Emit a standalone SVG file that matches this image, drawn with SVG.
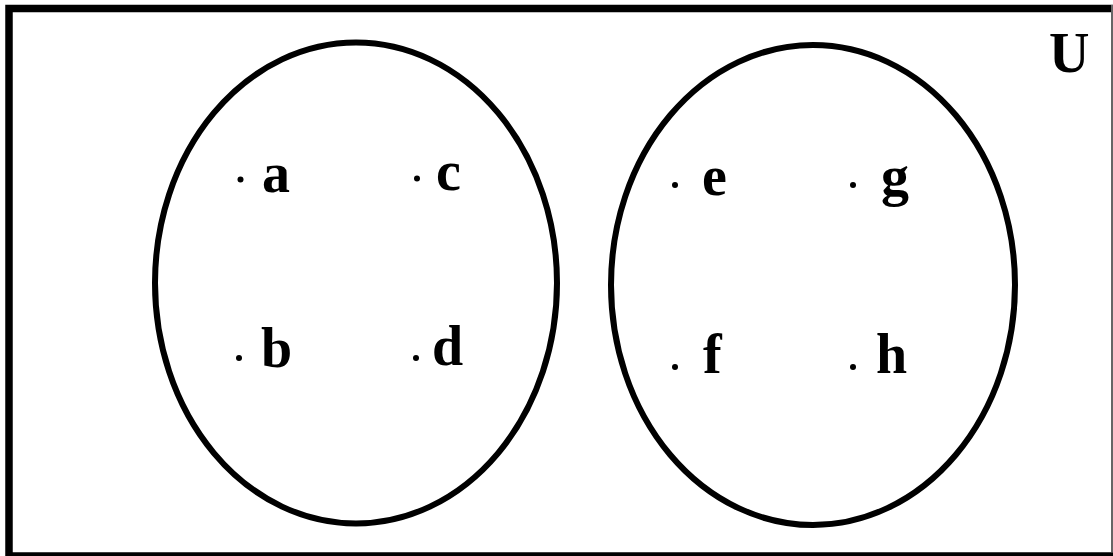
<svg xmlns="http://www.w3.org/2000/svg" width="1113" height="556" viewBox="0 0 1113 556">
<style>
.set{fill:none;stroke:#000;stroke-width:6}
.lbl{font-family:"Liberation Serif","Times New Roman",serif;font-weight:bold;font-size:56px;fill:#000}
.dot{fill:#000}
</style>
<rect x="0" y="0" width="1113" height="556" fill="#fff"/>
<g id="universe">
<rect x="9" y="8.5" width="1108" height="547.5" fill="none" stroke="#000" stroke-width="7.5"/>
<line x1="1112" y1="5" x2="1112" y2="552" stroke="#666" stroke-width="2"/>
<text class="lbl" x="1049" y="72">U</text>
</g>
<g id="setA">
<ellipse class="set" cx="356" cy="283" rx="201" ry="240.5"/>
</g>
<g id="setB">
<ellipse class="set" cx="813" cy="285" rx="202" ry="240"/>
</g>
<g id="el-a"><circle class="dot" cx="240.5" cy="179.5" r="3"/><text class="lbl" x="262" y="192">a</text></g>
<g id="el-c"><circle class="dot" cx="417" cy="178.5" r="3"/><text class="lbl" x="436" y="190">c</text></g>
<g id="el-b"><circle class="dot" cx="239" cy="358" r="3"/><text class="lbl" x="261" y="367">b</text></g>
<g id="el-d"><circle class="dot" cx="416" cy="358" r="3"/><text class="lbl" x="432" y="365">d</text></g>
<g id="el-e"><circle class="dot" cx="675" cy="185" r="3"/><text class="lbl" x="702" y="195">e</text></g>
<g id="el-g"><circle class="dot" cx="853" cy="185" r="3"/><text class="lbl" x="881" y="195">g</text></g>
<g id="el-f"><circle class="dot" cx="675" cy="367" r="3"/><text class="lbl" x="703" y="373">f</text></g>
<g id="el-h"><circle class="dot" cx="853" cy="367" r="3"/><text class="lbl" x="876" y="373">h</text></g>
</svg>
